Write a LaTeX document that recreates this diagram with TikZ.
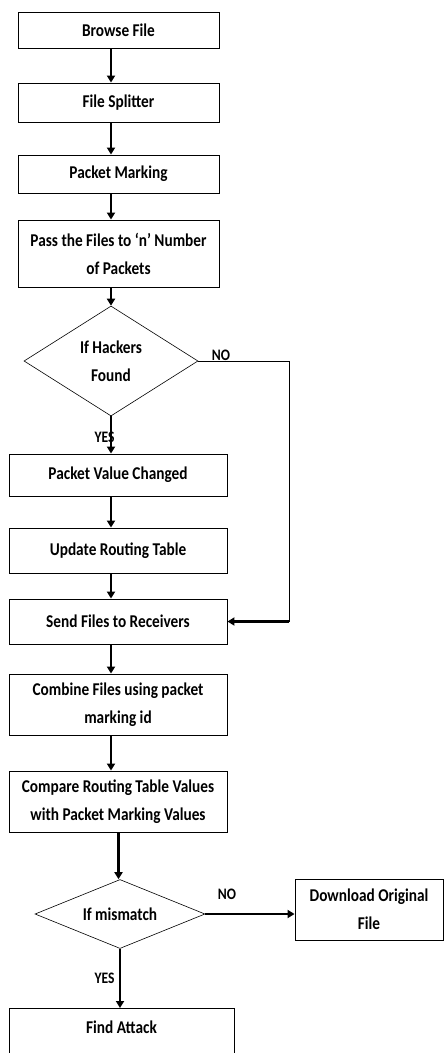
\documentclass[tikz,border=0pt]{standalone}
\usepackage{fontspec}
\setmainfont[FakeStretch=0.85,BoldFont={Carlito Bold}]{Carlito}
\usetikzlibrary{shapes.geometric,arrows.meta}
\begin{document}
\begin{tikzpicture}[x=1pt,y=-1pt,
  every node/.style={font=\bfseries\fontsize{18}{28}\selectfont, inner sep=0pt},
  box/.style={draw, line width=0.9pt, rectangle, minimum width=#1, align=center},
  box/.default=201,
  dec/.style={draw, line width=0.6pt, diamond, aspect=1.6, align=center},
  lbl/.style={font=\bfseries\fontsize{16}{18}\selectfont},
  arr/.style={line width=2.3pt, -{Triangle[length=7pt,width=8pt]}},
  thin/.style={line width=1pt}]
\useasboundingbox (0,0) rectangle (444,1053);
\clip (0,0) rectangle (444,1053);

% process column
\node[box, minimum height=36] (browse) at (118.5,30) {Browse File};
\node[box, minimum height=39] (split) at (118.5,102.5) {File Splitter};
\node[box, minimum height=38] (mark) at (118.5,174) {Packet Marking};
\node[box, minimum height=67] (pass) at (118.5,253.5) {Pass the Files to ‘n’ Number\\of Packets};
\node[dec, minimum width=174, minimum height=110] (hack) at (111,361) {If Hackers\\Found};
\node[box=218, minimum height=42] (pvc) at (118,475) {Packet Value Changed};
\node[box=218, minimum height=45] (urt) at (118,550.5) {Update Routing Table};
\node[box=218, minimum height=45] (send) at (118,621.5) {Send Files to Receivers};
\node[box=218, minimum height=61] (comb) at (118,704.5) {Combine Files using packet\\marking id};
\node[box=218, minimum height=61] (comp) at (118,801.5) {Compare Routing Table Values\\with Packet Marking Values};
\node[dec, minimum width=170, minimum height=69] (mism) at (120,914) {If mismatch};
\node[box=148, minimum height=61] (dl) at (369,909.5) {Download Original\\File};
\node[box=225, minimum height=64, anchor=north] (find) at (121.5,1008) {};
\node at (121.5,1027) (findtxt) {Find Attack};

% connector columns
\coordinate (c1) at (111,0);
\coordinate (c2) at (118.5,0);
\coordinate (c3) at (120,0);
\coordinate (ret) at (289,0);

\draw[arr] (browse.south -| c1) -- (split.north -| c1);
\draw[arr] (split.south -| c1) -- (mark.north -| c1);
\draw[arr] (mark.south -| c1) -- (pass.north -| c1);
\draw[arr] (pass.south -| c1) -- (hack.north);
\draw[arr] (hack.south) -- (pvc.north -| c1);
\draw[arr] (pvc.south -| c1) -- (urt.north -| c1);
\draw[arr] (urt.south -| c1) -- (send.north -| c1);
\draw[arr] (send.south -| c1) -- (comb.north -| c1);
\draw[arr] (comb.south -| c1) -- (comp.north -| c1);
\draw[arr] (comp.south -| c2) -- (mism.north -| c2);
\draw[arr] (mism.south) -- (find.north -| c3);
\draw[arr] (mism.east) -- (dl.west |- mism.east);

% NO branch of the hacker check
\draw[thin] (hack.east) -- (hack.east -| ret) -- (send.east -| ret);
\draw[arr] (send.east -| ret) -- (send.east);

% branch labels
\node[lbl] (no1) at (221,355) {NO};
\node[lbl] (yes1) at (104.5,437) {YES};
\node[lbl] (no2) at (227,894) {NO};
\node[lbl] (yes2) at (104.5,978) {YES};
\end{tikzpicture}
\end{document}
